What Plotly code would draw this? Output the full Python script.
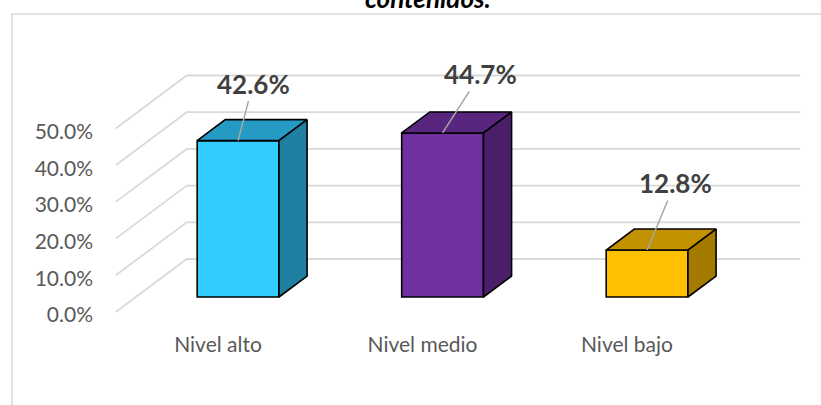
import plotly.graph_objects as go

# ---- data ----
categories = ["Nivel alto", "Nivel medio", "Nivel bajo"]
values = [42.6, 44.7, 12.8]          # percent
tick_values = [0, 10, 20, 30, 40, 50]
tick_labels = ["0.0%", "10.0%", "20.0%", "30.0%", "40.0%", "50.0%"]
title_text = "contenidos."

# ---- styles ----
front_colors = ["#33CCFF", "#7030A0", "#FFC000"]
top_colors = ["#259AC2", "#59267F", "#C29100"]
side_colors = ["#1F80A1", "#4A1E69", "#A47B00"]
grid_color = "#D9D9D9"
font_family = "Lato, 'Open Sans', sans-serif"

# pseudo-3D projection (data units): depth vector for the full depth
DX, DY = 0.347, 14.44
TF, TB = 0.283, 0.679      # bar front / back depth fractions
HW = 0.2                   # bar half width
WALL_X0, WALL_X1 = -0.5, len(categories) - 0.5

def proj(x, y, t):
    return x + t * DX, y + t * DY

fig = go.Figure()

# gridlines: side wall diagonals + back wall horizontals (below all traces)
for v in tick_values:
    a = proj(WALL_X0, v, 0)
    b = proj(WALL_X0, v, 1)
    c = proj(WALL_X1, v, 1)
    fig.add_shape(type="path", xref="x", yref="y", layer="below",
                  path=f"M {a[0]},{a[1]} L {b[0]},{b[1]} L {c[0]},{c[1]}",
                  line=dict(color=grid_color, width=1.8))

# bars: front faces as bar trace
fx = [i + TF * DX for i in range(len(values))]
fig.add_trace(go.Bar(x=fx, y=values, base=[TF * DY] * len(values),
                     width=2 * HW,
                     marker=dict(color=front_colors,
                                 line=dict(color="black", width=1.6))))

# top and side faces
for i, v in enumerate(values):
    flt = proj(i - HW, v, TF)
    frt = proj(i + HW, v, TF)
    brt = proj(i + HW, v, TB)
    blt = proj(i - HW, v, TB)
    frb = proj(i + HW, 0, TF)
    brb = proj(i + HW, 0, TB)
    fig.add_trace(go.Scatter(
        x=[flt[0], frt[0], brt[0], blt[0], flt[0]],
        y=[flt[1], frt[1], brt[1], blt[1], flt[1]],
        fill="toself", fillcolor=top_colors[i], mode="lines",
        line=dict(color="black", width=1.6), hoverinfo="skip"))
    fig.add_trace(go.Scatter(
        x=[frb[0], frt[0], brt[0], brb[0], frb[0]],
        y=[frb[1], frt[1], brt[1], brb[1], frb[1]],
        fill="toself", fillcolor=side_colors[i], mode="lines",
        line=dict(color="black", width=1.6), hoverinfo="skip"))

# data labels with leader lines
offsets = [(15, -57), (38, -59), (28, -67)]
for i, v in enumerate(values):
    px, py = proj(i, v, TF)
    fig.add_annotation(x=px, y=py, xref="x", yref="y",
                       text=f"<b>{v:.1f}%</b>", showarrow=True,
                       arrowhead=0, arrowwidth=1.5, arrowcolor="#A6A6A6",
                       ax=offsets[i][0], ay=offsets[i][1], standoff=0,
                       font=dict(family=font_family, size=26, color="#404040"))

# title (mostly cut off at the top, as in the reference)
PL, PR, PT, PB = 100, 810, 20, 330
W, H = 821, 405
def paper_x(p):
    return (p - PL) / (PR - PL)
def paper_y(p):
    return (PB - p) / (PB - PT)

fig.add_annotation(x=paper_x(428), y=paper_y(16), xref="paper", yref="paper",
                   xanchor="center", yanchor="bottom", showarrow=False,
                   text=f"<b><i>{title_text}</i></b>",
                   font=dict(family=font_family, size=26, color="black"))

# chart border
fig.add_shape(type="rect", xref="paper", yref="paper",
              x0=paper_x(12), x1=paper_x(830), y0=paper_y(415), y1=paper_y(14),
              line=dict(color=grid_color, width=1.5), fillcolor="rgba(0,0,0,0)",
              layer="below")

x0 = -(218 - PL) / 204.5
x1 = x0 + (PR - PL) / 204.5
y0 = -(PB - 312) / 3.67
y1 = (312 - PT) / 3.67

fig.update_layout(
    width=W, height=H,
    margin=dict(l=PL, r=W - PR, t=PT, b=H - PB),
    paper_bgcolor="white", plot_bgcolor="white",
    showlegend=False,
    xaxis=dict(range=[x0, x1], tickvals=list(range(len(categories))),
               ticktext=categories, showgrid=False, zeroline=False,
               showline=False, ticks="", ticklabelstandoff=0,
               tickfont=dict(family=font_family, size=21, color="#595959")),
    yaxis=dict(range=[y0, y1], tickvals=tick_values, ticktext=tick_labels,
               showgrid=False, zeroline=False, showline=False, ticks="",
               ticklabelstandoff=6, ticklabelshift=3,
               tickfont=dict(family=font_family, size=21, color="#595959")),
)

fig.write_html("out.html")
